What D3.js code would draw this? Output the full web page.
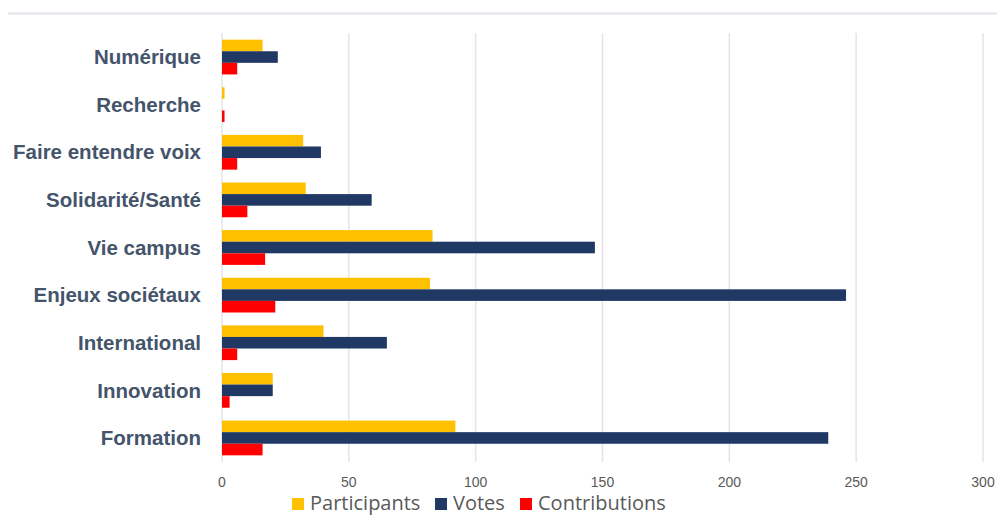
<html>
<head>
	<meta charset="utf-8">
	<title>participation par thème</title>
	<script src="https://cdn.jsdelivr.net/npm/d3@7"></script>
	<style>
		body {
			margin: 0;
			background: #fff;
		}
		.grid line {
			stroke: #e3e4ea;
			stroke-width: 1.5;
		}
		.cat {
			font-family: "Liberation Sans", Arial, sans-serif;
			font-size: 20.5px;
			font-weight: 700;
			fill: #44546a;
		}
		.tick-label {
			font-family: "Liberation Sans Narrow", "Liberation Sans", Arial, sans-serif;
			font-size: 14px;
			fill: #595959;
		}
		.legend text {
			font-family: "Open Sans", "Liberation Sans", Arial, sans-serif;
			font-size: 20px;
			fill: #595959;
		}
	</style>
</head>
<body>
	<svg id="chart" width="997" height="517"></svg>
<script>

// Data, top to bottom
var categories = ["Numérique", "Recherche", "Faire entendre voix", "Solidarité/Santé", "Vie campus",
	"Enjeux sociétaux", "International", "Innovation", "Formation"];
var participants = [16, 1, 32, 33, 83, 82, 40, 20, 92];
var votes = [22, 0, 39, 59, 147, 246, 65, 20, 239];
var contributions = [6, 1, 6, 10, 17, 21, 6, 3, 16];
var seriesNames = ["Participants", "Votes", "Contributions"];
var seriesColors = ["#ffc000", "#1f3864", "#ff0000"];
var xTicks = [0, 50, 100, 150, 200, 250, 300];

var seriesValues = [participants, votes, contributions];

var svg = d3.select("#chart");

// Thin rule across the top
svg.append("line")
	.attr("x1", 8)
	.attr("x2", 997)
	.attr("y1", 13.5)
	.attr("y2", 13.5)
	.attr("stroke", "#e2e2ea")
	.attr("stroke-width", 2);

// Scales
var x = d3.scaleLinear()
	.domain([0, 300])
	.range([222, 983]);
var y = d3.scaleBand()
	.domain(categories)
	.range([33, 462])
	.paddingInner(0.27)
	.paddingOuter(0.14);
var ySub = d3.scaleBand()
	.domain(seriesNames)
	.range([0, y.bandwidth()]);

// Grid
var gridG = svg.append("g").attr("class", "grid");
xTicks.forEach(function(t) {
	gridG.append("line")
		.attr("x1", x(t))
		.attr("x2", x(t))
		.attr("y1", 33)
		.attr("y2", 462);
});

// Tick labels
svg.selectAll(".tick-label")
	.data(xTicks)
	.enter().append("text")
		.attr("class", "tick-label")
		.attr("x", function(d) { return x(d); })
		.attr("y", 487)
		.attr("text-anchor", "middle")
		.text(function(d) { return d; });

// Bars
var barG = svg.append("g").attr("class", "bars");
seriesNames.forEach(function(s, si) {
	barG.selectAll(".bar-" + si)
		.data(seriesValues[si])
		.enter().append("rect")
			.attr("class", "bar-" + si)
			.attr("x", x(0))
			.attr("y", function(d, i) { return y(categories[i]) + ySub(s); })
			.attr("width", function(d) { return x(d) - x(0); })
			.attr("height", ySub.bandwidth())
			.attr("fill", seriesColors[si]);
});

// Category labels
svg.selectAll(".cat")
	.data(categories)
	.enter().append("text")
		.attr("class", "cat")
		.attr("x", 201)
		.attr("y", function(d) { return y(d) + y.bandwidth() / 2; })
		.attr("dy", "0.35em")
		.attr("text-anchor", "end")
		.text(function(d) { return d; });

// Legend
var legendX = [292, 435, 520];
var legend = svg.append("g").attr("class", "legend");
seriesNames.forEach(function(s, i) {
	legend.append("rect")
		.attr("x", legendX[i])
		.attr("y", 498)
		.attr("width", 12)
		.attr("height", 12)
		.attr("fill", seriesColors[i]);
	legend.append("text")
		.attr("x", legendX[i] + 18)
		.attr("y", 510)
		.text(s);
});

</script>
</body>
</html>
